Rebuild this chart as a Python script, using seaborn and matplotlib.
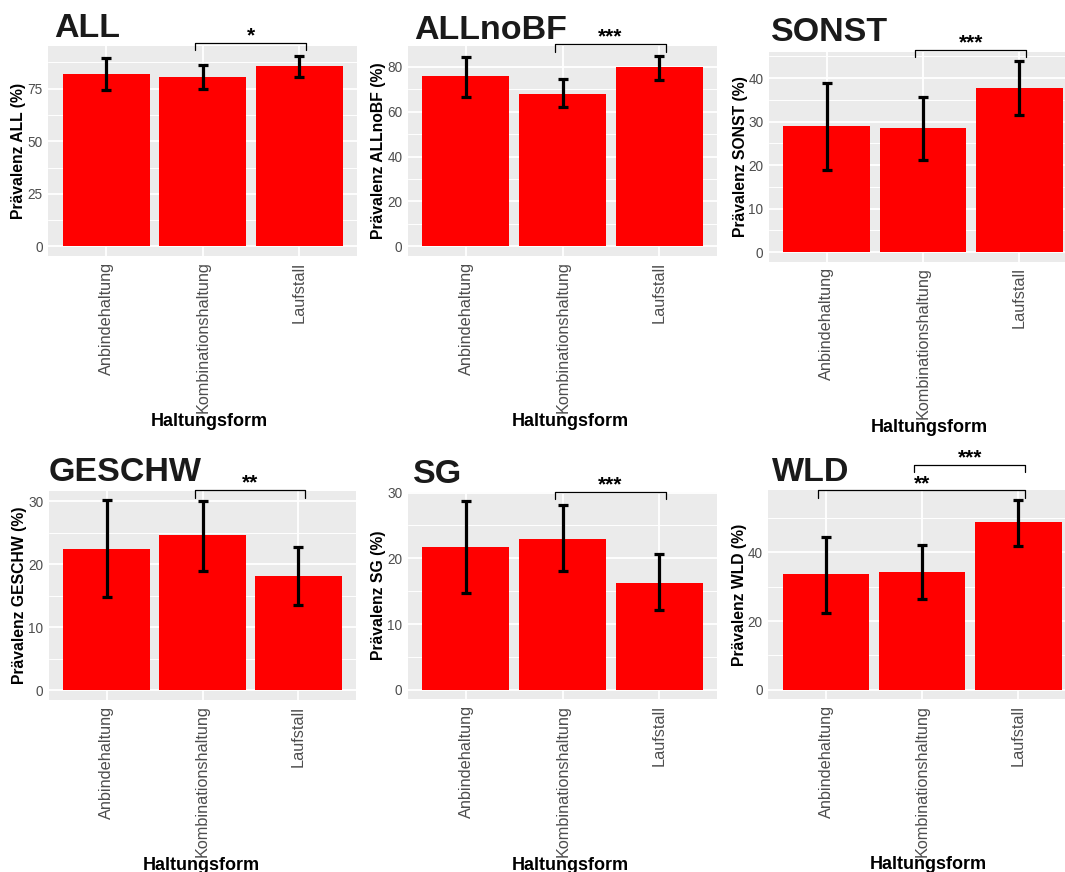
import matplotlib
matplotlib.use("Agg")
import matplotlib.pyplot as plt
from matplotlib.ticker import FixedLocator
import numpy as np
import pandas as pd
import seaborn as sns

# Housing systems on the x axis
categories = ["Anbindehaltung", "Kombinationshaltung", "Laufstall"]

# Prevalence (%) with lower / upper confidence limits per outcome
all_mean = [81.8, 80.4, 85.5]
all_low = [74.1, 74.7, 80.4]
all_high = [89.6, 86.4, 90.7]

allnobf_mean = [75.6, 67.9, 79.6]
allnobf_low = [66.6, 61.8, 74.1]
allnobf_high = [84.1, 74.4, 84.9]

sonst_mean = [29.0, 28.5, 37.7]
sonst_low = [18.8, 21.2, 31.6]
sonst_high = [38.9, 35.6, 43.9]

geschw_mean = [22.5, 24.6, 18.2]
geschw_low = [14.8, 18.9, 13.5]
geschw_high = [30.2, 30.0, 22.8]

sg_mean = [21.8, 23.0, 16.3]
sg_low = [14.7, 18.0, 12.1]
sg_high = [28.7, 28.1, 20.7]

wld_mean = [33.7, 34.3, 48.9]
wld_low = [22.5, 26.3, 41.9]
wld_high = [44.4, 42.2, 55.4]

# Pairwise significance: (group a, group b, label, bracket height)
all_sig = [(1, 2, "*", 96.8)]
allnobf_sig = [(1, 2, "***", 90.0)]
sonst_sig = [(1, 2, "***", 46.5)]
geschw_sig = [(1, 2, "**", 31.8)]
sg_sig = [(1, 2, "***", 30.1)]
wld_sig = [(0, 2, "**", 58.05), (1, 2, "***", 65.5)]

# y ticks per panel
all_ticks = [0, 25, 50, 75]
allnobf_ticks = [0, 20, 40, 60, 80]
sonst_ticks = [0, 10, 20, 30, 40]
geschw_ticks = [0, 10, 20, 30]
sg_ticks = [0, 10, 20, 30]
wld_ticks = [0, 20, 40]

W, H = 1065, 872
DPI = 100

sns.set_theme(style="white")
plt.rcParams["font.family"] = ["Liberation Sans", "DejaVu Sans"]

fig = plt.figure(figsize=(W / DPI, H / DPI), dpi=DPI)
fig.patch.set_facecolor("white")

# Layout in pixels: panel rect (left, top, right, bottom), title (x, baseline),
# y-label centre x, x-label (centre x, baseline)
panels = [
    dict(name="ALL", mean=all_mean, low=all_low, high=all_high, ticks=all_ticks, sig=all_sig,
         rect=(48.3, 46, 357.3, 256), title=(54, 37), ylab_x=19, xlab=(209, 426)),
    dict(name="ALLnoBF", mean=allnobf_mean, low=allnobf_low, high=allnobf_high, ticks=allnobf_ticks,
         sig=allnobf_sig, rect=(408, 46, 717.3, 256), title=(414, 39), ylab_x=378.5, xlab=(570, 426)),
    dict(name="SONST", mean=sonst_mean, low=sonst_low, high=sonst_high, ticks=sonst_ticks,
         sig=sonst_sig, rect=(769, 51.7, 1077, 261.7), title=(771, 40.7), ylab_x=740, xlab=(929.7, 431.7)),
    dict(name="GESCHW", mean=geschw_mean, low=geschw_low, high=geschw_high, ticks=geschw_ticks,
         sig=geschw_sig, rect=(49, 490.7, 356, 700), title=(49, 480.7), ylab_x=20, xlab=(201.7, 870)),
    dict(name="SG", mean=sg_mean, low=sg_low, high=sg_high, ticks=sg_ticks,
         sig=sg_sig, rect=(408, 491.7, 717.3, 699.3), title=(413, 482.7), ylab_x=378.5, xlab=(570, 870)),
    dict(name="WLD", mean=wld_mean, low=wld_low, high=wld_high, ticks=wld_ticks,
         sig=wld_sig, rect=(768.3, 490, 1076, 699.3), title=(772, 480.7), ylab_x=739.5, xlab=(928.3, 869)),
]


def fx(x):
    return x / W


def fy(y):
    return 1 - y / H


for p in panels:
    l, t, r, b = p["rect"]
    ax = fig.add_axes([fx(l), fy(b), (r - l) / W, (b - t) / H])
    ax.set_facecolor("#EBEBEB")

    df = pd.DataFrame({"Haltungsform": categories, "Praevalenz": p["mean"]})
    sns.barplot(data=df, x="Haltungsform", y="Praevalenz", color="#FF0000",
                saturation=1, width=0.9, errorbar=None, ax=ax, zorder=2,
                linewidth=0, edgecolor="none")

    mean = np.array(p["mean"])
    low = np.array(p["low"])
    high = np.array(p["high"])
    ax.errorbar(np.arange(len(categories)), mean, yerr=[mean - low, high - mean],
                fmt="none", ecolor="black", elinewidth=2.3, capsize=3.3, capthick=2.3, zorder=3)

    top = max(p["high"])
    ax.set_ylim(-0.05 * top, 1.05 * top)
    ax.set_xlim(-0.6, len(categories) - 0.4)

    ticks = p["ticks"]
    ax.set_yticks(ticks)
    ax.set_yticklabels([str(v) for v in ticks])
    step = ticks[1] - ticks[0]
    minors = [v + step / 2 for v in [ticks[0] - step] + ticks if -0.05 * top < v + step / 2 < 1.05 * top]
    ax.yaxis.set_minor_locator(FixedLocator(minors))

    ax.grid(which="major", axis="both", color="white", linewidth=1.3, zorder=0)
    ax.grid(which="minor", axis="y", color="white", linewidth=0.7, zorder=0)
    ax.set_axisbelow(True)
    for s in ax.spines.values():
        s.set_visible(False)

    ax.tick_params(axis="both", which="major", length=2.5, width=0.9, color="#333333",
                   labelcolor="#4D4D4D", pad=1.5)
    ax.tick_params(axis="y", which="minor", length=0)
    ax.tick_params(axis="y", labelsize=9.8)
    ax.tick_params(axis="x", labelsize=11.7, labelrotation=90)
    ax.set_xlabel("")
    ax.set_ylabel("")

    # significance brackets
    span = 1.1 * top
    tip = 0.036 * span
    for a, bb, lab, yb in p["sig"]:
        x0, x1 = a - 0.08, bb + 0.07
        ax.plot([x0, x0, x1, x1], [yb - tip, yb, yb, yb - tip], color="black",
                linewidth=0.9, clip_on=False, zorder=4)
        ax.annotate(lab, xy=((x0 + x1) / 2, yb), xytext=(0, 1), textcoords="offset points",
                    ha="center", va="baseline", fontsize=15, fontweight="bold", color="black",
                    annotation_clip=False)

    # panel title, axis titles
    fig.text(fx(p["title"][0]), fy(p["title"][1]), p["name"], fontsize=24.5,
             fontweight="bold", color="#1A1A1A", ha="left", va="baseline")
    fig.text(fx(p["ylab_x"]), fy((t + b) / 2), f"Prävalenz {p['name']} (%)", fontsize=11.3,
             fontweight="bold", color="black", rotation=90, ha="center", va="center")
    fig.text(fx(p["xlab"][0]), fy(p["xlab"][1]), "Haltungsform", fontsize=13,
             fontweight="bold", color="black", ha="center", va="baseline")

fig.savefig("out.png", dpi=DPI, facecolor="white")
